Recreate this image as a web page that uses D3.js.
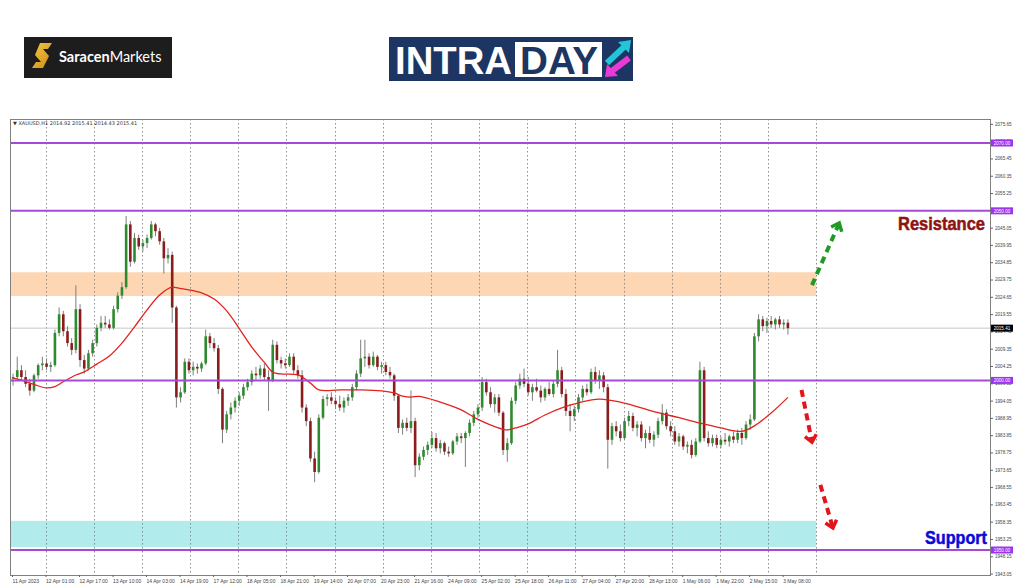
<!DOCTYPE html>
<html><head><meta charset="utf-8">
<script src="https://cdn.jsdelivr.net/npm/d3@7"></script>
<style>html,body{margin:0;padding:0;background:#fff;} svg{display:block;}</style>
</head><body>
<svg id="c" width="1024" height="587"></svg>
<script>
// ---------- DATA ----------
const candles = [
[2000.5,2002,1998.5,2001],[2001,2007,2000,2003],[2003,2004.5,2000,2001],[2001,2003,1998,1999],[1999,2000.5,1995.5,1997],
[1997,2002,1996.5,2001.5],[2001.5,2005,2000.5,2004.5],[2004.5,2007,2003,2005],[2005,2006.5,2003,2004],[2004,2005.5,2002.5,2004.5],
[2004.5,2015,2004,2014],[2014,2021.5,2013,2019.5],[2019.5,2020.5,2013,2014.5],[2014.5,2016,2010,2011],[2011,2012.5,2007.5,2009],
[2009,2028,2008,2021],[2021,2022.5,2004,2006],[2006,2007.5,2002,2003.5],[2003.5,2009,2003,2008],[2008,2012,2007,2011],
[2011,2016.5,2010,2015.5],[2015.5,2019,2014.5,2017],[2017,2019,2015.5,2016.5],[2016.5,2018,2015,2015.5],[2015.5,2022,2015,2021],
[2021,2026,2020,2025],[2025,2029,2024,2027.5],[2027.5,2048.5,2027,2046],[2046,2047,2033.5,2035],[2035,2043.5,2034.5,2042],
[2042,2043,2038.5,2039.5],[2039.5,2041.5,2038,2040.5],[2040.5,2043,2039,2042],[2042,2047,2041.5,2046],[2046,2046.5,2042.5,2044],
[2044,2045,2040,2041],[2041,2042,2031.5,2036],[2036,2039,2034.5,2037],[2037,2038,2017,2021.5],[2021.5,2022,1992,1995],
[1995,1998,1993.5,1996.5],[1996.5,2006.5,1996,2005.5],[2005.5,2006.5,2002,2003],[2003,2005.5,2001.5,2004],[2004,2005,2002,2003.5],
[2003.5,2005.5,2002.5,2005],[2005,2015,2004.5,2013],[2013,2014,2009.5,2011],[2011,2012.5,2008.5,2009.5],[2009.5,2010.5,1996,1997.5],
[1997.5,1998,1981.5,1985.5],[1985.5,1991,1984.5,1990],[1990,1993.5,1988.5,1992],[1992,1995,1990.5,1994],[1994,1996.5,1992.5,1995.5],
[1995.5,1999,1994.5,1998],[1998,2000.5,1997,1999.5],[1999.5,2003,1998.5,2002],[2002,2004,2000,2001.5],[2001.5,2004.5,2000.5,2003.5],
[2003.5,2005,2000,2001],[2001,2003,1991,2000],[2000,2012,1999.5,2010.5],[2010.5,2011.5,2005,2006],[2006,2007,2003.5,2005],
[2005,2006.5,2003.5,2004.5],[2004.5,2008,2004,2007],[2007,2008,2002,2003],[2003,2004.5,2000.5,2001.5],[2001.5,2003,1990.5,1992],
[1992,1993,1986.5,1988],[1988,1989,1976,1977],[1977,1979,1970,1973],[1973,1990,1972.5,1989],[1989,1995.5,1988.5,1994.5],
[1994.5,1996,1992.5,1995],[1995,1996.5,1993,1994],[1994,1995,1991.5,1993],[1993,1995.5,1991,1992],[1992,1995,1990.5,1994],
[1994,1996,1992.5,1995],[1995,1999,1994,1998],[1998,2003,1997,2002],[2002,2012,2001,2006.5],[2006.5,2012,2004,2007],
[2007,2008,2003.5,2004.5],[2004.5,2008.5,2004,2007],[2007,2007.5,2003,2004],[2004,2005.5,2002,2004.5],[2004.5,2005.5,2001.5,2002.5],
[2002.5,2004,2000.5,2001.5],[2001.5,2002,1994,1995.5],[1995.5,1996,1984.5,1986],[1986,1988.5,1984,1987.5],[1987.5,1989,1985,1986],
[1986,1997,1984.5,1988],[1988,1989,1971.5,1975],[1975,1978.5,1973.5,1977.5],[1977.5,1980.5,1976.5,1979.5],[1979.5,1982,1978,1981],
[1981,1984.8,1980,1983],[1983,1984.5,1979,1980],[1980,1982.5,1978.5,1981.5],[1981.5,1982,1978,1979],[1979,1980.5,1977.5,1978.5],
[1978.5,1982.5,1978,1982],[1982,1984.5,1981,1983.5],[1983.5,1984.5,1981.5,1983],[1983,1985,1974.5,1984.5],[1984.5,1988.5,1983.5,1987.5],
[1987.5,1991,1986.5,1990],[1990,1993,1989,1992],[1992,2001,1991,1999.5],[1999.5,2000.5,1995.5,1996.5],[1996.5,1998,1992,1993],
[1993,1996,1990.5,1995],[1995,1996,1989.5,1990.5],[1990.5,1991,1978,1979.5],[1979.5,1983,1976,1981.5],[1981.5,1995,1981,1994],
[1994,1999.5,1993,1998.5],[1998.5,2002,1997.5,2000.5],[2000.5,2003.5,1998,1999],[1999,2001,1995.5,1996.5],[1996.5,1999,1994,1998],
[1998,2000.5,1996.5,1997],[1997,1998.5,1993.5,1995],[1995,1998,1994,1997.5],[1997.5,1999.5,1995.5,1996],[1996,2000,1995,1999],
[1999,2009,1998,2003],[2003,2004,1995,1996],[1996,1997.5,1989.5,1991],[1991,1993,1985,1989.5],[1989.5,1992.5,1988,1991.5],
[1991.5,1996,1990.5,1995],[1995,1998.5,1994,1997.5],[1997.5,1999,1995.5,1996.5],[1996.5,2003.5,1996,2002.5],[2002.5,2004,1999,2000],
[2000,2003,1997.5,2001.5],[2001.5,2002.5,1996.5,1998],[1998,1999,1974,1982.5],[1982.5,1987.5,1981,1986.5],[1986.5,1988,1983.5,1985],
[1985,1987,1982,1983],[1983,1989,1982.5,1988],[1988,1991,1986.5,1989.5],[1989.5,1990.5,1985,1986],[1986,1988,1983.5,1987],
[1987,1988,1982,1983],[1983,1985.5,1980,1984.5],[1984.5,1986.5,1981.5,1982.5],[1982.5,1985,1980.5,1984],[1984,1989,1983,1988],
[1988,1993,1987,1990.5],[1990.5,1991.5,1985.5,1986.5],[1986.5,1988,1983.5,1985],[1985,1986.5,1981,1982],[1982,1984.5,1980.5,1983.5],
[1983.5,1984,1979.5,1980.5],[1980.5,1982,1978.5,1981],[1981,1982.5,1977,1978],[1978,1983,1977.5,1982],[1982,2005.5,1981.5,2003],
[2003,2004,1982,1983],[1983,1985,1980.5,1981.5],[1981.5,1984,1980.5,1983],[1983,1984,1980,1981],[1981,1983.5,1980,1982.5],
[1982.5,1984.5,1981,1982],[1982,1984,1980.5,1983.5],[1983.5,1985,1981.5,1982.5],[1982.5,1985.5,1981.5,1984.5],[1984.5,1986,1981,1983],
[1983,1988,1982.5,1987],[1987,1990,1985.5,1988.5],[1988.5,2014,1988,2013],[2013,2019.5,2011.5,2018],[2018,2019,2014.5,2016],
[2016,2018.5,2014,2017.5],[2017.5,2019,2015.5,2016.5],[2016.5,2018.5,2015,2018],[2018,2019,2015.5,2016.5],[2016.5,2018,2015,2017],
[2017,2018,2013.5,2015.41]
];
// moving average: candle index -> value
const maCandle = [0,2,5,8,10,12,15,17,20,23,26,29,32,35,38,39.5,42,45,48,51,54,57,60,62,64,68,71,73,78,83,88,91,93,95,97,102,107,111,115,118,120,123,127,131,135,140,145,150,154,159,164,169,174,177,181,185];
const maValue = [2000.7,2000.1,1998.8,1997.8,1998.2,1999.6,2001.6,2002.5,2004.8,2007.2,2011,2015.8,2020.8,2025.2,2027.5,2027.2,2026.7,2025.8,2024,2020.5,2015.3,2009.8,2005.3,2002.4,2001.9,2001.6,1999.2,1997.2,1997.2,1997.2,1996.9,1996.3,1995.4,1995.1,1995.3,1993.6,1991.3,1988.5,1986.4,1985.4,1986,1987.2,1989.8,1991.9,1993.4,1994.5,1993.6,1991.9,1990.5,1989,1987.4,1986,1985,1986.6,1990.4,1995];
const xLabels = ["11 Apr 2023","12 Apr 01:00","12 Apr 17:00","13 Apr 10:00","14 Apr 03:00","14 Apr 19:00","17 Apr 12:00","18 Apr 05:00","18 Apr 21:00","19 Apr 14:00","20 Apr 07:00","20 Apr 23:00","21 Apr 16:00","24 Apr 09:00","25 Apr 02:00","25 Apr 18:00","26 Apr 11:00","27 Apr 04:00","27 Apr 20:00","28 Apr 13:00","1 May 06:00","1 May 22:00","2 May 15:00","3 May 08:00"];
const priceTicks = [2075.65,2070.55,2065.45,2060.35,2055.25,2050.15,2045.05,2039.95,2034.85,2029.75,2024.65,2019.55,2014.45,2009.35,2004.25,1999.15,1994.05,1988.95,1983.85,1978.75,1973.65,1968.55,1963.45,1958.35,1953.25,1948.15,1943.05];
const levels = [2070, 2050, 2000, 1950];
const lastPrice = 2015.41;
const resistanceZone = [2024.9, 2031.9];
const supportZone = [1950.9, 1958.6];
const headerText = "\u25BC XAUUSD,H1  2014.92 2015.41 2014.43 2015.41";
const arrowUp = [[382, 2028.1],[395, 2046.4]];
const arrowDown1 = [[377, 1997.2],[382, 1981.8]];
const arrowDown2 = [[386, 1969.2],[392, 1956.5]];
const barsPerCandle = 2, barsPerLabel = 16, gridStart = 16, gridStep = 23, zoneEndBar = 384;

// ---------- DRAW ----------
const svg = d3.select("#c");
svg.append("rect").attr("width",1024).attr("height",587).attr("fill","#fff");
const P = {l:10,t:119,r:990,b:575};
const x = d3.scaleLinear().domain([0,467]).range([12,990]);
const y = d3.scaleLinear().domain([1950,2070]).range([550,143]);

// logos
const lg = svg.append("g");
lg.append("rect").attr("x",24).attr("y",37).attr("width",148).attr("height",41).attr("fill","#1d1d1d");
const defs = svg.append("defs");
const gr = defs.append("linearGradient").attr("id","gold").attr("x1","0").attr("y1","0").attr("x2","1").attr("y2","1");
gr.append("stop").attr("offset","0").attr("stop-color","#f7c948");
gr.append("stop").attr("offset","1").attr("stop-color","#c98a12");
lg.append("path").attr("d","M40,43 L52,43 L48,49 L43,49 L49,56 L43,68 L32,68 L36,62 L41,62 L35,55 Z").attr("fill","url(#gold)");
const st = lg.append("text").attr("x",59).attr("y",62).attr("fill","#fff").attr("font-family","Lato, 'Open Sans', sans-serif").attr("font-size",14.5);
st.append("tspan").attr("font-weight","bold").text("Saracen");
st.append("tspan").attr("font-weight","normal").text("Markets");

const ig = svg.append("g");
ig.append("rect").attr("x",389).attr("y",37).attr("width",244).attr("height",44).attr("fill","#1c3562");
ig.append("text").attr("x",395).attr("y",74).attr("fill","#fff").attr("font-family","'Liberation Sans', Arial, sans-serif").attr("font-weight","bold").attr("font-size",38).attr("textLength",117).attr("lengthAdjust","spacingAndGlyphs").text("INTRA");
ig.append("rect").attr("x",515).attr("y",42).attr("width",87).attr("height",35).attr("fill","#fff");
ig.append("text").attr("x",520).attr("y",74).attr("fill","#1c3562").attr("font-family","'Liberation Sans', Arial, sans-serif").attr("font-weight","bold").attr("font-size",38).attr("textLength",78).attr("lengthAdjust","spacingAndGlyphs").text("DAY");
ig.append("line").attr("x1",607).attr("y1",63).attr("x2",624).attr("y2",47).attr("stroke","#22c6d6").attr("stroke-width",6);
ig.append("polygon").attr("points","631,40 629,53 618,42").attr("fill","#22c6d6");
ig.append("line").attr("x1",629).attr("y1",58).attr("x2",612).attr("y2",71).attr("stroke","#e83ad6").attr("stroke-width",6);
ig.append("polygon").attr("points","605,77 618,76 607,64").attr("fill","#e83ad6");

// plot
defs.append("clipPath").attr("id","clip").append("rect").attr("x",P.l).attr("y",P.t).attr("width",P.r-P.l).attr("height",P.b-P.t);
const pg = svg.append("g").attr("clip-path","url(#clip)");

pg.append("rect").attr("x",P.l).attr("width",x(zoneEndBar)-P.l)
  .attr("y",y(resistanceZone[1])).attr("height",y(resistanceZone[0])-y(resistanceZone[1])).attr("fill","#fdd6b3");
pg.append("rect").attr("x",P.l).attr("width",x(zoneEndBar)-P.l)
  .attr("y",y(supportZone[1])).attr("height",y(supportZone[0])-y(supportZone[1])).attr("fill","#b2ebec");

const gridBars = d3.range(gridStart, zoneEndBar+1, gridStep);
pg.selectAll("line.grid").data(gridBars).join("line").attr("class","grid")
  .attr("x1",d=>Math.round(x(d))+0.5).attr("x2",d=>Math.round(x(d))+0.5).attr("y1",P.t).attr("y2",P.b)
  .attr("stroke","#8c8c8c").attr("stroke-width",1).attr("stroke-dasharray","1.5,2.5");

pg.append("line").attr("x1",P.l).attr("x2",P.r).attr("y1",y(lastPrice)).attr("y2",y(lastPrice)).attr("stroke","#c8c8c8").attr("stroke-width",1);

const cw = 2.6;
const cg = pg.append("g");
cg.selectAll("line.wick").data(candles).join("line").attr("class","wick")
  .attr("x1",(d,i)=>x(i*barsPerCandle+0.5)).attr("x2",(d,i)=>x(i*barsPerCandle+0.5))
  .attr("y1",d=>y(d[1])).attr("y2",d=>y(d[2])).attr("stroke","#7e7e7e").attr("stroke-width",1);
cg.selectAll("rect.body").data(candles).join("rect").attr("class","body")
  .attr("x",(d,i)=>x(i*barsPerCandle+0.5)-cw/2).attr("width",cw)
  .attr("y",d=>y(Math.max(d[0],d[3]))).attr("height",d=>Math.max(0.8,Math.abs(y(d[0])-y(d[3]))))
  .attr("fill",d=>d[3]>=d[0]?"#2e8a2e":"#8a1c1c");

const maPts = maCandle.map((c,i)=>[x(c*barsPerCandle+0.5), y(maValue[i])]);
pg.append("path").attr("d",d3.line().curve(d3.curveCatmullRom)(maPts)).attr("fill","none").attr("stroke","#e0231f").attr("stroke-width",1.3);

pg.selectAll("line.lvl").data(levels).join("line").attr("class","lvl")
  .attr("x1",P.l).attr("x2",P.r).attr("y1",d=>y(d)).attr("y2",d=>y(d)).attr("stroke","#a54ad8").attr("stroke-width",2);

pg.append("text").attr("x",13).attr("y",125).attr("font-family","'DejaVu Sans', sans-serif").attr("font-size",5).attr("fill","#333").text(headerText);

// frame
svg.append("rect").attr("x",P.l+0.5).attr("y",P.t+0.5).attr("width",P.r-P.l).attr("height",P.b-P.t).attr("fill","none").attr("stroke","#808080").attr("stroke-width",1);

// arrows
function arrow(pts,color){
  const p0=[x(pts[0][0]),y(pts[0][1])], p1=[x(pts[1][0]),y(pts[1][1])];
  const g=svg.append("g");
  g.append("line").attr("x1",p0[0]).attr("y1",p0[1]).attr("x2",p1[0]).attr("y2",p1[1])
   .attr("stroke",color).attr("stroke-width",4).attr("stroke-dasharray","7,5");
  const a=Math.atan2(p1[1]-p0[1],p1[0]-p0[0]), L=9;
  const c1=[p1[0]-L*Math.cos(a-0.7),p1[1]-L*Math.sin(a-0.7)], c2=[p1[0]-L*Math.cos(a+0.7),p1[1]-L*Math.sin(a+0.7)];
  g.append("polyline").attr("points",[c1,p1,c2].map(p=>p.join(",")).join(" ")).attr("fill","none").attr("stroke",color).attr("stroke-width",3.5).attr("stroke-linejoin","miter");
}
arrow(arrowUp,"#1f9a24");
arrow(arrowDown1,"#e3141b");
arrow(arrowDown2,"#e3141b");

svg.append("text").attr("x",898).attr("y",229.5).attr("font-family","'Liberation Sans', Arial, sans-serif").attr("font-weight","bold").attr("font-size",17.5)
  .attr("fill","#8e1414").attr("stroke","#8e1414").attr("stroke-width",0.5).attr("textLength",87).attr("lengthAdjust","spacingAndGlyphs").text("Resistance");
svg.append("text").attr("x",925).attr("y",543.5).attr("font-family","'Liberation Sans', Arial, sans-serif").attr("font-weight","bold").attr("font-size",18)
  .attr("fill","#0a0ad8").attr("stroke","#0a0ad8").attr("stroke-width",0.5).attr("textLength",62).attr("lengthAdjust","spacingAndGlyphs").text("Support");

// price axis
const ya = svg.append("g").attr("transform",`translate(${P.r},0)`)
  .call(d3.axisRight(y).tickValues(priceTicks).tickSize(3).tickPadding(2).tickFormat(d3.format(".2f")));
ya.select(".domain").remove();
ya.selectAll("line").attr("stroke","#666");
ya.selectAll("text").attr("font-family","'Liberation Sans', Arial, sans-serif").attr("font-size",4.6).attr("fill","#444");

// level labels
const lv = svg.append("g");
levels.forEach(l=>{
  lv.append("rect").attr("x",991).attr("y",y(l)-3.5).attr("width",22).attr("height",7).attr("fill","#9b35f0");
  lv.append("text").attr("x",1002).attr("y",y(l)+1.7).attr("text-anchor","middle").attr("font-family","'Liberation Sans', Arial, sans-serif").attr("font-size",4.6).attr("fill","#fff").text(d3.format(".2f")(l));
});
lv.append("rect").attr("x",991).attr("y",y(lastPrice)-3.5).attr("width",22).attr("height",7).attr("fill","#000");
lv.append("text").attr("x",1002).attr("y",y(lastPrice)+1.7).attr("text-anchor","middle").attr("font-family","'Liberation Sans', Arial, sans-serif").attr("font-size",4.6).attr("fill","#fff").text(d3.format(".2f")(lastPrice));

// time axis
const labelBars = xLabels.map((d,i)=>i*barsPerLabel);
const xa = svg.append("g").attr("transform",`translate(0,${P.b})`)
  .call(d3.axisBottom(x).tickValues(labelBars).tickSize(2).tickPadding(2).tickFormat((d,i)=>xLabels[i]));
xa.select(".domain").remove();
xa.selectAll("line").attr("stroke","#666");
xa.selectAll("text").attr("text-anchor","start").attr("font-family","'Liberation Sans', Arial, sans-serif").attr("font-size",5).attr("fill","#444");
</script>
</body></html>
